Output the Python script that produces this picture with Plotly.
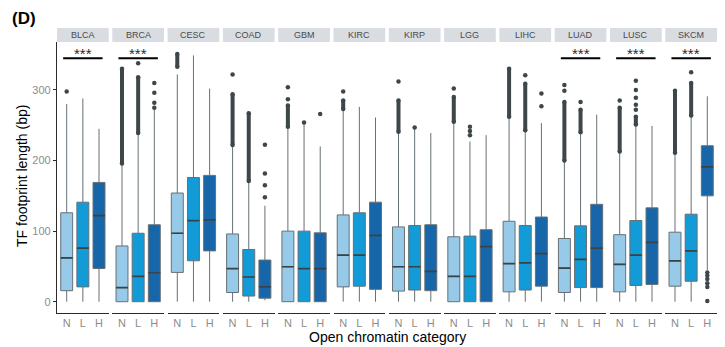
import plotly.graph_objects as go

# ---- data -------------------------------------------------------------
cancers = ["BLCA", "BRCA", "CESC", "COAD", "GBM", "KIRC",
           "KIRP", "LGG", "LIHC", "LUAD", "LUSC", "SKCM"]
categories = ["N", "L", "H"]

# box statistics per cancer, in category order N, L, H
lower_whisker = [[0, 0, 0], [0, 0, 0], [0, 0, 0], [0, 0, 2], [0, 0, 0], [0, 0, 0],
                 [0, 0, 0], [0, 0, 0], [0, 0, 0], [0, 0, 0], [0, 0, 0], [0, 0, 45]]
q1 = [[15.6, 21, 47], [0, 0, 0], [41.5, 58, 72], [13, 8, 5], [0, 0, 0], [21, 22, 17.5],
      [15, 16.5, 15.6], [0, 0, 0], [14, 16.5, 22], [13, 20, 20], [14, 23, 24.5], [22, 29, 150]]
median = [[62, 76, 122], [20, 36, 41], [97, 115, 116], [47, 35, 21], [49.5, 47, 47],
          [66, 66, 94], [49.5, 49.5, 43], [36, 36, 78], [54, 55, 68], [47.6, 60, 76],
          [53, 66, 84], [58, 72, 191]]
q3 = [[126, 141, 169], [79, 97, 109], [154, 176, 179], [96, 74, 59], [100, 100, 97.6],
      [123, 126, 141], [106, 108, 109], [92, 93, 102], [114, 108, 120], [89.6, 107.5, 138],
      [95, 115, 133], [98.5, 124, 221]]
upper_whisker = [[280, 288, 245], [196, 239, 272], [322, 349, 302], [222, 171, 136],
                 [248, 252, 220], [273, 276, 261], [241, 245, 239], [255, 227, 236],
                 [262, 243, 253], [200, 240, 265], [213, 251, 249], [211, 264, 291]]

# densely packed outliers: (cancer, category, lowest, highest)
outlier_runs = [
    ("BRCA", "N", 196, 330), ("BRCA", "L", 239, 318), ("CESC", "N", 333, 351),
    ("COAD", "N", 222, 294), ("COAD", "L", 171, 267), ("GBM", "N", 248, 278),
    ("KIRC", "N", 273, 285), ("KIRP", "N", 241, 285), ("LGG", "N", 255, 290),
    ("LIHC", "N", 262, 330), ("LIHC", "L", 243, 309), ("LUAD", "N", 200, 283),
    ("LUAD", "L", 240, 272), ("LUSC", "N", 213, 275), ("LUSC", "L", 251, 262),
    ("SKCM", "N", 211, 299), ("SKCM", "L", 264, 310),
]
# isolated outliers: (cancer, category, value)
outlier_points = [
    ("BLCA", "N", 298), ("BRCA", "L", 338), ("BRCA", "H", 275), ("BRCA", "H", 282),
    ("BRCA", "H", 296), ("BRCA", "H", 310), ("COAD", "N", 322), ("COAD", "H", 148),
    ("COAD", "H", 165), ("COAD", "H", 181.5), ("COAD", "H", 222.5), ("GBM", "N", 287),
    ("GBM", "N", 304), ("GBM", "L", 254), ("GBM", "H", 266), ("KIRC", "N", 298),
    ("KIRP", "N", 312), ("KIRP", "L", 247), ("LGG", "N", 302), ("LGG", "L", 236),
    ("LGG", "L", 242), ("LGG", "L", 248), ("LIHC", "L", 321), ("LIHC", "H", 277),
    ("LIHC", "H", 295), ("LUAD", "N", 299), ("LUAD", "N", 307), ("LUAD", "L", 283),
    ("LUSC", "N", 285), ("LUSC", "L", 272), ("LUSC", "L", 279), ("LUSC", "L", 289),
    ("LUSC", "L", 300), ("LUSC", "L", 313), ("SKCM", "L", 325), ("SKCM", "H", 41.5),
    ("SKCM", "H", 37), ("SKCM", "H", 32), ("SKCM", "H", 26), ("SKCM", "H", 21),
    ("SKCM", "H", 1),
]
significant = ["BLCA", "BRCA", "LUAD", "LUSC", "SKCM"]
sig_label = "***"
y_ticks = [0, 100, 200, 300]

# ---- style ------------------------------------------------------------
fill_colors = {"N": "#97c9e8", "L": "#129bd7", "H": "#1766a9"}
box_line = "#667075"
median_color = "#384347"
dot_color = "#3d474a"
axis_color = "#2b2b2b"
tick_grey = "#8c8c8c"
strip_fill = "#d9dce1"
FONT = "Liberation Sans, Arial, sans-serif"

W, H = 725, 347
ml, mr, mt, mb = 57, 8, 42, 34
pw, ph = W - ml - mr, H - mt - mb
pitch, panel_w = 55.3, 51.7
y_range = [-16, 368]
bracket_y = 345
box_w = 0.74

fig = go.Figure()
layout = dict(
    width=W, height=H, margin=dict(l=ml, r=mr, t=mt, b=mb),
    paper_bgcolor="white", plot_bgcolor="white", showlegend=False,
    font=dict(family=FONT),
    boxmode="overlay",
)
shapes, annotations = [], []

for i, c in enumerate(cancers):
    ax = "" if i == 0 else str(i + 1)
    x0 = i * pitch / pw
    x1 = (i * pitch + panel_w) / pw
    layout["xaxis" + ax] = dict(
        domain=[x0, x1], range=[-0.6, 2.6], anchor="y",
        tickvals=[0, 1, 2], ticktext=categories, ticks="",
        tickfont=dict(size=11, color=tick_grey, family=FONT),
        showline=True, linecolor=axis_color, linewidth=1.2,
        showgrid=False, zeroline=False, fixedrange=True,
    )
    for j, cat in enumerate(categories):
        fig.add_trace(go.Box(
            x=[j], q1=[q1[i][j]], median=[median[i][j]], q3=[q3[i][j]],
            lowerfence=[lower_whisker[i][j]], upperfence=[upper_whisker[i][j]],
            fillcolor=fill_colors[cat], line=dict(color=box_line, width=1),
            width=box_w, whiskerwidth=0, boxpoints=False,
            xaxis="x" + ax, yaxis="y", hoverinfo="skip",
        ))
        # heavier median bar drawn over the box
        fig.add_trace(go.Scatter(
            x=[j - box_w / 2, j + box_w / 2], y=[median[i][j]] * 2, mode="lines",
            line=dict(color=median_color, width=1.7),
            xaxis="x" + ax, yaxis="y", hoverinfo="skip",
        ))
    # facet strip
    shapes.append(dict(type="rect", xref="paper", yref="paper",
                       x0=x0, x1=x1, y0=1.0, y1=1 + 14 / ph,
                       fillcolor=strip_fill, line=dict(width=0), layer="below"))
    annotations.append(dict(text=c, xref="paper", yref="paper",
                            x=(x0 + x1) / 2, y=1 + 7 / ph, showarrow=False,
                            xanchor="center", yanchor="middle",
                            font=dict(size=9, color="#4a4a4a", family=FONT)))
    if c in significant:
        shapes.append(dict(type="line", xref="x" + ax, yref="y",
                           x0=-0.22, x1=2.22, y0=bracket_y, y1=bracket_y,
                           line=dict(color="black", width=1.8)))
        annotations.append(dict(text=sig_label, xref="x" + ax, yref="y",
                                x=1, y=bracket_y + 7, showarrow=False,
                                xanchor="center", yanchor="middle",
                                font=dict(size=15, color="#2a2a2a", family=FONT)))

# outliers
axis_of = {c: ("x" if i == 0 else "x" + str(i + 1)) for i, c in enumerate(cancers)}
for c, cat, lo, hi in outlier_runs:
    fig.add_trace(go.Scatter(
        x=[categories.index(cat)] * 2, y=[lo, hi], mode="lines+markers",
        line=dict(color=dot_color, width=4), marker=dict(size=4.5, color=dot_color),
        xaxis=axis_of[c], yaxis="y", hoverinfo="skip",
    ))
for c in cancers:
    pts = [(cat, v) for cc, cat, v in outlier_points if cc == c]
    if pts:
        fig.add_trace(go.Scatter(
            x=[categories.index(cat) for cat, _ in pts], y=[v for _, v in pts],
            mode="markers", marker=dict(size=4.5, color=dot_color),
            xaxis=axis_of[c], yaxis="y", hoverinfo="skip",
        ))

layout["yaxis"] = dict(
    domain=[0, 1], range=y_range, anchor="x",
    tickvals=y_ticks, ticks="outside", ticklen=3, tickcolor=axis_color,
    tickfont=dict(size=11, color=tick_grey, family=FONT),
    showline=True, linecolor=axis_color, linewidth=1.2,
    showgrid=False, zeroline=False, fixedrange=True,
)

# axis titles and panel tag
annotations.append(dict(text="Open chromatin category", xref="paper", yref="paper",
                        x=0.5, y=-24 / ph, showarrow=False, xanchor="center",
                        yanchor="middle", font=dict(size=14, color="black", family=FONT)))
annotations.append(dict(text="TF footprint length (bp)", xref="paper", yref="paper",
                        x=-35 / pw, y=(H - mb - 176) / ph, showarrow=False,
                        xanchor="center", yanchor="middle", textangle=-90,
                        font=dict(size=14, color="black", family=FONT)))
annotations.append(dict(text="<b>(D)</b>", xref="paper", yref="paper",
                        x=-47 / pw, y=1 + 24 / ph, showarrow=False,
                        xanchor="left", yanchor="middle",
                        font=dict(size=17, color="black", family=FONT)))

layout["shapes"] = shapes
layout["annotations"] = annotations
fig.update_layout(**layout)
fig.write_html("out.html")
